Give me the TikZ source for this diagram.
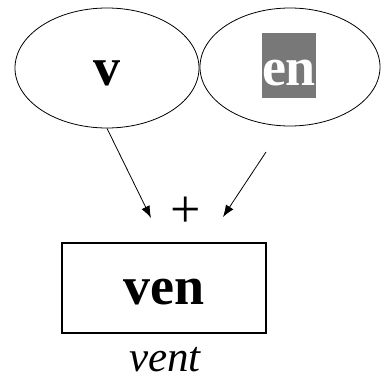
\documentclass[tikz,border=0pt]{standalone}
\usepackage{fontspec}
\setmainfont{Liberation Serif}
\usepackage{xcolor}
\usetikzlibrary{shapes.geometric,arrows.meta,positioning}
\definecolor{dithergray}{RGB}{120,120,120}
\tikzset{
  morph/.style={font=\fontsize{54}{60}\selectfont\bfseries},
  bubble/.style={draw, thick, ellipse, inner sep=0pt},
  link/.style={thick, -{Latex[length=12pt,width=9pt]}}
}

\begin{document}
\begin{tikzpicture}[x=1pt, y=-1pt]
  \useasboundingbox (0,0) rectangle (386,380);

  % Input morphs
  \node[bubble, morph, minimum width=184pt, minimum height=120pt, text height=36pt]
      (vell) at (107,68) {v};
  \node[bubble, minimum width=180pt, minimum height=118pt]
      (enell) at (290,67) {};
  \node[morph, fill=dithergray, text=white, inner sep=0pt, minimum width=54pt,
        text height=52pt, text depth=13pt, anchor=base]
      (en) at (289,85) {en};

  % Combination
  \node[font=\fontsize{54}{60}\selectfont, inner sep=0pt] (plus) at (186,212) {+};
  \coordinate (lefttip) at (151,218);
  \coordinate (rightstart) at (266,152);
  \coordinate (righttip) at (223,217);
  \draw[link] (vell.south) -- (lefttip);
  \draw[link] (rightstart) -- (righttip);

  % Result
  \node[draw, line width=1.2pt, morph, minimum width=204pt, minimum height=90pt,
        text height=33pt]
      (ven) at (164,288) {ven};
  \node[font=\fontsize{43}{48}\selectfont\itshape, anchor=base, inner sep=0pt]
      (vent) at (165,371) {vent};
\end{tikzpicture}
\end{document}
